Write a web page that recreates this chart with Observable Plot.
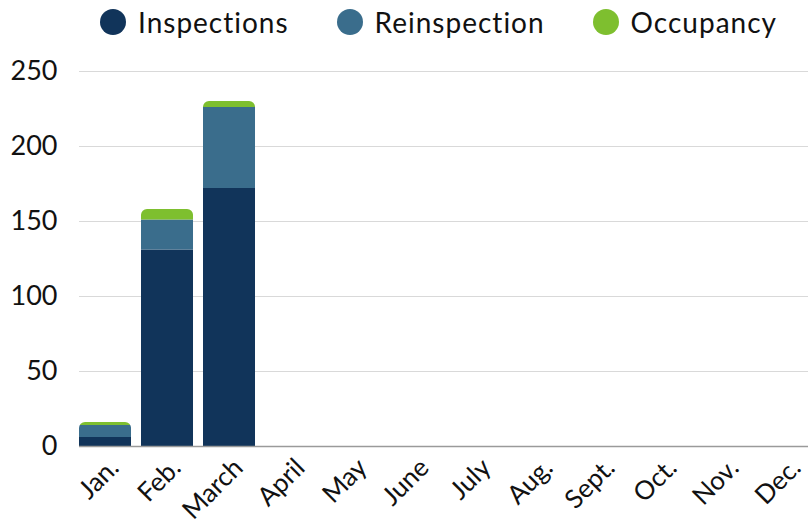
<!DOCTYPE html>
<html>
<head>
<meta charset="utf-8">
<script src="https://cdn.jsdelivr.net/npm/d3@7"></script>
<script src="https://cdn.jsdelivr.net/npm/@observablehq/plot@0.6"></script>
<style>
  html, body { margin: 0; padding: 0; background: #fff; overflow: hidden; }
  body { width: 808px; height: 529px; font-family: Lato, "Noto Sans", sans-serif; }
  .legend { height: 44px; display: flex; align-items: center; padding-left: 100px; font-size: 28px; letter-spacing: 1px; color: #111; }
  .legend .item { display: flex; align-items: center; margin-right: 48px; }
  .legend .sw { width: 26px; height: 26px; border-radius: 50%; margin-right: 12px; }
  #chart svg { display: block; max-width: none; }
</style>
</head>
<body>
<div class="legend" id="legend"></div>
<div id="chart"></div>
<script>
const months = ["Jan.", "Feb.", "March", "April", "May", "June", "July", "Aug.", "Sept.", "Oct.", "Nov.", "Dec."];
const inspections = [6, 131, 172, 0, 0, 0, 0, 0, 0, 0, 0, 0];
const reinspection = [8, 20, 54, 0, 0, 0, 0, 0, 0, 0, 0, 0];
const occupancy = [2, 7, 4, 0, 0, 0, 0, 0, 0, 0, 0, 0];
const seriesNames = ["Inspections", "Reinspection", "Occupancy"];
const seriesColors = ["#11345a", "#3a6d8c", "#7ebf2f"];
const yTicks = [0, 50, 100, 150, 200, 250];

const seriesValues = [inspections, reinspection, occupancy];
const data = [];
seriesNames.forEach((s, si) => months.forEach((m, i) => data.push({month: m, series: s, value: seriesValues[si][i]})));
const totals = months.map((m, i) => ({month: m, total: inspections[i] + reinspection[i] + occupancy[i]}));

// legend
const legend = document.getElementById("legend");
seriesNames.forEach((s, i) => {
  const it = document.createElement("div");
  it.className = "item";
  it.innerHTML = `<span class="sw" style="background:${seriesColors[i]}"></span><span>${s}</span>`;
  legend.appendChild(it);
});

const plot = Plot.plot({
  width: 808,
  height: 485,
  marginLeft: 79,
  marginRight: 0,
  marginTop: 27,
  marginBottom: 83,
  style: {fontFamily: "Lato, 'Noto Sans', sans-serif", fontSize: "27px", color: "#111", background: "white", overflow: "visible"},
  x: {domain: months, range: [79, 813], paddingInner: 0.16, paddingOuter: 0, round: false, label: null},
  y: {domain: [0, 250], label: null},
  color: {domain: seriesNames, range: seriesColors},
  marks: [
    Plot.ruleY(yTicks.filter(d => d > 0), {stroke: "#d9d9d9", strokeWidth: 1}),
    Plot.barY(data, {
      x: "month", y: "value", fill: "series", order: seriesNames,
      render(index, scales, values, dimensions, context, next) {
        const g = next(index, scales, values, dimensions, context);
        const clip = d3.create("svg:clipPath").attr("id", "bar-clip");
        totals.filter(d => d.total > 0).forEach(d => {
          clip.append("rect")
            .attr("x", scales.x(d.month))
            .attr("width", scales.x.bandwidth())
            .attr("y", scales.y(d.total))
            .attr("height", scales.y(0) - scales.y(d.total) + 12)
            .attr("rx", 6).attr("ry", 6);
        });
        g.insertBefore(clip.node(), g.firstChild);
        g.setAttribute("clip-path", "url(#bar-clip)");
        return g;
      }
    }),
    Plot.ruleY([0], {stroke: "#9a9a9a", strokeWidth: 1.5}),
    Plot.axisY({ticks: yTicks, tickSize: 0, tickPadding: 22, fontSize: 27}),
    Plot.axisX({tickSize: 0, tickRotate: -45, tickPadding: 17, dx: 9, fontSize: 26})
  ]
});
document.getElementById("chart").appendChild(plot);
</script>
</body>
</html>
